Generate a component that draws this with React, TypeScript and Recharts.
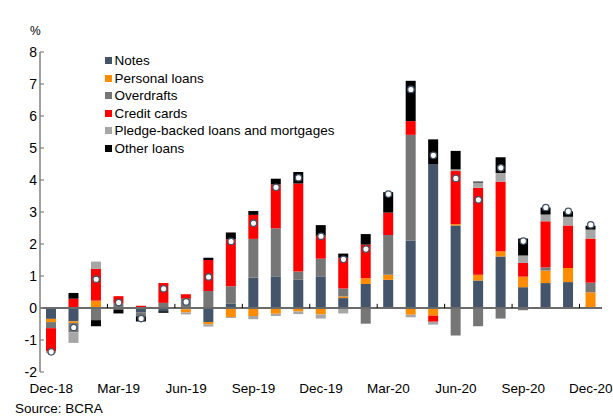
import { ComposedChart, Bar, Line, XAxis, YAxis, ReferenceLine } from "recharts"

const FONT = "'Liberation Sans', Arial, sans-serif"

const months = [
  "Dec-18", "Jan-19", "Feb-19", "Mar-19", "Apr-19", "May-19", "Jun-19",
  "Jul-19", "Aug-19", "Sep-19", "Oct-19", "Nov-19", "Dec-19", "Jan-20",
  "Feb-20", "Mar-20", "Apr-20", "May-20", "Jun-20", "Jul-20", "Aug-20",
  "Sep-20", "Oct-20", "Nov-20", "Dec-20",
]

const notes = [
  -0.34, -0.42, 0, -0.05, -0.13, -0.1, -0.04, -0.44, 0.13, 0.95, 0.99, 0.88, 0.99,
  0.31, 0.75, 0.88, 2.11, 4.49, 2.58, 0.86, 1.61, 0.65, 0.78, 0.81, 0,
]
const personalLoans = [
  -0.1, -0.05, 0.23, 0, 0, 0, -0.1, -0.07, -0.28, -0.25, -0.18, -0.11, -0.2,
  0.05, 0.18, 0.16, -0.21, -0.24, 0.04, 0.18, 0.16, 0.33, 0.39, 0.44, 0.49,
]
const overdrafts = [
  -0.19, -0.29, -0.38, 0.14, -0.13, 0.16, 0.29, 0.53, 0.55, 1.21, 1.5, 0.26, 0.55,
  0.25, -0.49, 1.24, 3.3, 0, -0.86, -0.57, -0.33, -0.07, 0.1, 0, 0.3,
]
const creditCards = [
  -0.73, 0.29, 0.99, 0.23, 0.07, 0.62, 0.14, 0.97, 1.47, 0.75, 1.37, 2.75, 0.72,
  0.96, 1.05, 0.7, 0.43, -0.19, 1.66, 2.72, 2.18, 0.43, 1.44, 1.33, 1.38,
]
const pledgeLoans = [
  -0.05, -0.33, 0.23, 0, 0, 0, -0.06, -0.07, -0.03, -0.1, -0.07, -0.08, -0.13,
  -0.17, 0, 0, -0.08, -0.09, 0.05, 0.16, 0.27, 0.23, 0.21, 0.27, 0.28,
]
const otherLoans = [
  0, 0.18, -0.19, -0.12, -0.16, -0.05, 0, 0.07, 0.21, 0.12, 0.18, 0.36, 0.33,
  0.13, 0.33, 0.64, 1.26, 0.78, 0.58, 0.03, 0.49, 0.53, 0.22, 0.17, 0.12,
]
const total = [
  -1.37, -0.61, 0.9, 0.17, -0.33, 0.6, 0.19, 0.97, 2.08, 2.65, 3.77, 4.07, 2.24,
  1.52, 1.84, 3.56, 6.83, 4.77, 4.05, 3.38, 4.38, 2.09, 3.14, 3.02, 2.6,
]

const yTicks = [-2, -1, 0, 1, 2, 3, 4, 5, 6, 7, 8]
const xTicks = [0, 3, 6, 9, 12, 15, 18, 21, 24]
const quarterMarks = [2.5, 5.5, 8.5, 11.5, 14.5, 17.5, 20.5, 23.5]

const series = [
  { key: "notes", name: "Notes", color: "#44546A" },
  { key: "personal", name: "Personal loans", color: "#FF8C00" },
  { key: "overdrafts", name: "Overdrafts", color: "#767676" },
  { key: "credit", name: "Credit cards", color: "#FF0000" },
  { key: "pledge", name: "Pledge-backed loans and mortgages", color: "#A6A6A6" },
  { key: "other", name: "Other loans", color: "#000000" },
]

const data = months.map((m, i) => ({
  i,
  month: m,
  notes: notes[i],
  personal: personalLoans[i],
  overdrafts: overdrafts[i],
  credit: creditCards[i],
  pledge: pledgeLoans[i],
  other: otherLoans[i],
  total: total[i],
}))

export default function App() {
  return (
    <div style={{ position: "absolute", left: 0, top: 0, width: 613, height: 418, fontFamily: FONT, background: "#fff" }}>
      <ComposedChart
        width={613}
        height={418}
        data={data}
        stackOffset="sign"
        margin={{ top: 52, right: 11, bottom: 16, left: 0 }}
      >
        <XAxis
          dataKey="i"
          type="number"
          domain={[-0.5, 24.5]}
          ticks={xTicks}
          interval={0}
          tickFormatter={(v) => months[v]}
          axisLine={false}
          tickLine={false}
          tickSize={0}
          tickMargin={11}
          height={30}
          tick={{ fill: "#000", fontSize: 13.5, fontFamily: FONT }}
        />
        <YAxis
          type="number"
          domain={[-2, 8]}
          ticks={yTicks}
          interval={0}
          width={40}
          axisLine={{ stroke: "#808080", strokeWidth: 1.5 }}
          tickLine={{ stroke: "#808080", strokeWidth: 1.2 }}
          tickSize={-4}
          tickMargin={7}
          tick={{ fill: "#000", fontSize: 14, fontFamily: FONT }}
        />
        {series.map((s) => (
          <Bar
            key={s.key}
            dataKey={s.key}
            stackId="a"
            fill={s.color}
            barSize={10}
            isAnimationActive={false}
          />
        ))}
        <ReferenceLine y={0} stroke="#6b6b6b" strokeWidth={2} />
        {quarterMarks.map((b) => (
          <ReferenceLine
            key={b}
            segment={[{ x: b, y: 0 }, { x: b, y: 0.13 }]}
            stroke="#000"
            strokeWidth={1}
          />
        ))}
        <Line
          dataKey="total"
          stroke="none"
          dot={{ r: 3.2, fill: "#fff", stroke: "#44546A", strokeWidth: 1.3 }}
          activeDot={false}
          isAnimationActive={false}
        />
      </ComposedChart>

      <div style={{ position: "absolute", left: 30, top: 24, fontSize: 12 }}>%</div>

      <div style={{ position: "absolute", left: 105, top: 52, fontSize: 13.5 }}>
        {series.map((s) => (
          <div key={s.key} style={{ display: "flex", alignItems: "center", height: 17.5, lineHeight: "17.5px" }}>
            <span style={{ width: 7, height: 7, background: s.color, marginRight: 2.5, display: "inline-block" }} />
            <span>{s.name}</span>
          </div>
        ))}
      </div>

      <div style={{ position: "absolute", left: 15, top: 402, fontSize: 13.5, lineHeight: "14px" }}>
        Source: BCRA
      </div>
    </div>
  )
}
